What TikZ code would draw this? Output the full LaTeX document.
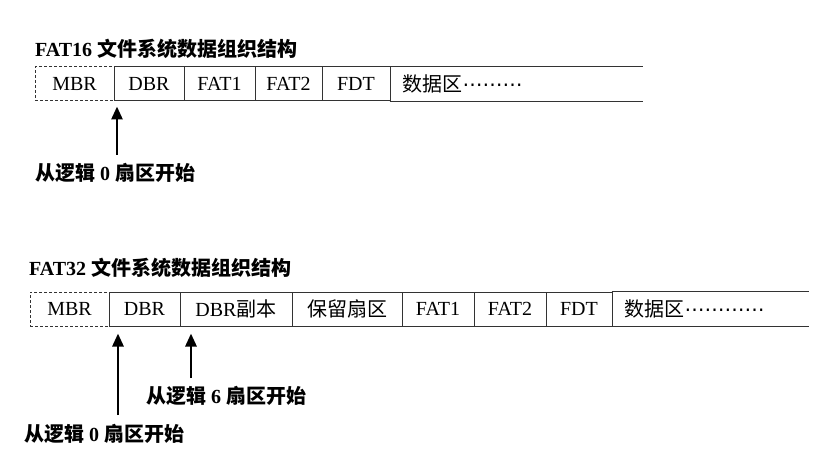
\documentclass[tikz,border=0pt]{standalone}
\usepackage{fontspec}
\setmainfont{Liberation Serif}
\newfontfamily\cjk{Noto Sans CJK SC}
\newfontfamily\dotfont{DejaVu Sans}
\usetikzlibrary{arrows.meta}

\begin{document}
\begin{tikzpicture}[x=1pt, y=-1pt,
      every node/.style={inner sep=0pt},
      heading/.style={anchor=west, font=\bfseries\fontsize{20}{22}\selectfont},
      cell/.style={rectangle, draw=black!80, line width=1pt, minimum height=34pt, font=\fontsize{20}{22}\selectfont},
      mbrcell/.style={cell, dash pattern=on 3pt off 2pt},
      datacell/.style={cell, draw=none},
      datatext/.style={anchor=west, font=\cjk\fontsize{20}{22}\selectfont},
      pointer/.style={line width=2.7pt, -{Triangle[length=13pt, width=11pt]}},
      startlbl/.style={font=\bfseries\fontsize{20}{22}\selectfont}
  ]
    \useasboundingbox (0,0) rectangle (826,473);

    % FAT16
    \node[heading] (title16) at (35,49) {FAT16 {\cjk 文件系统数据组织结构}};
    \node[mbrcell, minimum width=79pt] (mbr16) at (74.5,84) {MBR};
    \node[cell, minimum width=70pt] (dbr16) at (149,84) {DBR};
    \node[cell, minimum width=71pt] (fata16) at (219.5,84) {FAT1};
    \node[cell, minimum width=67pt] (fatb16) at (288.5,84) {FAT2};
    \node[cell, minimum width=68pt] (fdt16) at (356,84) {FDT};
    \node[datacell, minimum width=252pt] (data16) at (516,84) {};
    \draw[black!80, line width=1pt] (data16.north west) -- (data16.north east) (data16.south west) -- (data16.south east);
    \node[datatext] (dtxt16) at ([xshift=13pt]data16.west) {数据区{\dotfont ⋯⋯⋯}};

    \node[startlbl] (lbl16) at (115,173) {{\cjk 从逻辑} 0 {\cjk 扇区开始}};
    \coordinate (tail16) at (117,155);
    \draw[pointer] (tail16) -- ([yshift=-5pt]tail16 |- dbr16.south);

    % FAT32
    \node[heading] (title32) at (29,268) {FAT32 {\cjk 文件系统数据组织结构}};
    \node[mbrcell, minimum width=79pt] (mbr32) at (69.5,309) {MBR};
    \node[cell, minimum width=71pt] (dbr32) at (144.5,309) {DBR};
    \node[cell, minimum width=112pt] (bak32) at (236,309) {DBR{\cjk 副本}};
    \node[cell, minimum width=110pt] (rsv32) at (347,309) {\cjk 保留扇区};
    \node[cell, minimum width=72pt] (fata32) at (438,309) {FAT1};
    \node[cell, minimum width=72pt] (fatb32) at (510,309) {FAT2};
    \node[cell, minimum width=66pt] (fdt32) at (579,309) {FDT};
    \node[datacell, minimum width=196pt] (data32) at (710,309) {};
    \draw[black!80, line width=1pt] (data32.north west) -- (data32.north east) (data32.south west) -- (data32.south east);
    \node[datatext] (dtxt32) at ([xshift=13pt]data32.west) {数据区{\dotfont ⋯⋯⋯⋯}};

    \node[startlbl] (lbl32b) at (226,396) {{\cjk 从逻辑} 6 {\cjk 扇区开始}};
    \node[startlbl] (lbl32a) at (104,434) {{\cjk 从逻辑} 0 {\cjk 扇区开始}};
    \coordinate (tail32a) at (118,415);
    \coordinate (tail32b) at (191,378);
    \draw[pointer] (tail32a) -- ([yshift=-7pt]tail32a |- dbr32.south);
    \draw[pointer] (tail32b) -- ([yshift=-7pt]tail32b |- bak32.south);
  \end{tikzpicture}
\end{document}
